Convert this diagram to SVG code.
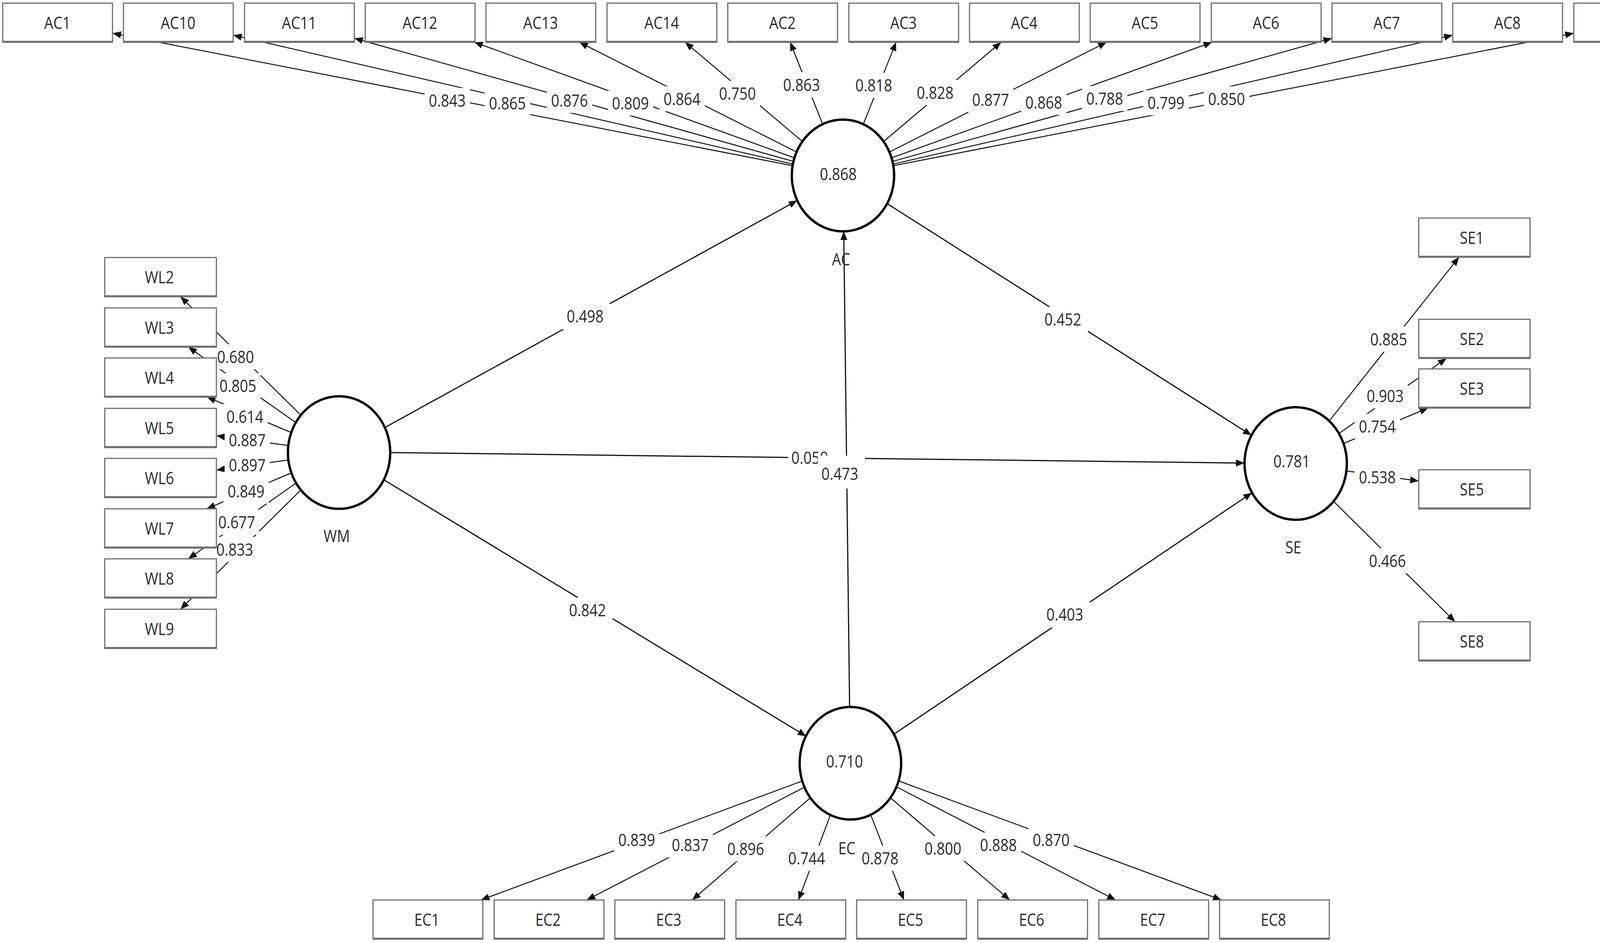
<svg xmlns="http://www.w3.org/2000/svg" width="4318" height="2413" viewBox="0 0 4318 2413">
<style>
.ln{stroke:#111;stroke-width:2.5;fill:none;marker-end:url(#arr)}
.st{stroke:#111;stroke-width:3;fill:none;marker-end:url(#arr)}
.box rect{fill:#fff;stroke:#6e6e6e;stroke-width:3}
.box line{stroke:#6e6e6e;stroke-width:5}
text{font-family:"Open Sans","Noto Sans","DejaVu Sans",sans-serif;font-size:37px;fill:#2a2a2a;text-anchor:middle;transform-box:fill-box;transform-origin:center;transform:scaleY(1.2)}
.lbl rect{fill:#fff}
.cn ellipse{fill:#fff;stroke:#000;stroke-width:6}
</style>
<defs>
<marker id="arr" markerUnits="userSpaceOnUse" markerWidth="24" markerHeight="20" refX="22" refY="9" orient="auto">
<path d="M0,0 L22,9 L0,18 z" fill="#111"/>
</marker>
</defs>
<rect x="0" y="0" width="4318" height="2413" fill="#fff"/>

<g id="connectors">
<line class="ln" x1="2029" y1="424" x2="288" y2="85"/>
<line class="ln" x1="2030" y1="420" x2="597" y2="90"/>
<line class="ln" x1="2031" y1="413" x2="907" y2="98"/>
<line class="ln" x1="2034" y1="404" x2="1214" y2="108"/>
<line class="ln" x1="2039" y1="389" x2="1483" y2="108"/>
<line class="ln" x1="2054" y1="362" x2="1754" y2="108"/>
<line class="ln" x1="2106" y1="318" x2="2023" y2="108"/>
<line class="ln" x1="2210" y1="318" x2="2294" y2="108"/>
<line class="ln" x1="2262" y1="362" x2="2563" y2="108"/>
<line class="ln" x1="2277" y1="389" x2="2833" y2="108"/>
<line class="ln" x1="2282" y1="404" x2="3103" y2="108"/>
<line class="ln" x1="2285" y1="413" x2="3410" y2="98"/>
<line class="ln" x1="2286" y1="420" x2="3719" y2="90"/>
<line class="ln" x1="2287" y1="424" x2="4029" y2="85"/>

<line class="ln" x1="770" y1="1062" x2="462" y2="759"/>
<line class="ln" x1="757" y1="1081" x2="482" y2="888"/>
<line class="ln" x1="746" y1="1107" x2="530" y2="1016"/>
<line class="ln" x1="738" y1="1140" x2="554" y2="1115"/>
<line class="ln" x1="738" y1="1177" x2="554" y2="1203"/>
<line class="ln" x1="746" y1="1210" x2="529" y2="1302"/>
<line class="ln" x1="758" y1="1236" x2="482" y2="1430"/>
<line class="ln" x1="770" y1="1254" x2="462" y2="1559"/>

<line class="ln" x1="3403" y1="1077" x2="3735" y2="658"/>
<line class="ln" x1="3428" y1="1109" x2="3703" y2="917"/>
<line class="ln" x1="3439" y1="1135" x2="3656" y2="1044"/>
<line class="ln" x1="3447" y1="1205" x2="3632" y2="1231"/>
<line class="ln" x1="3414" y1="1283" x2="3725" y2="1591"/>

<line class="ln" x1="2055" y1="1998" x2="1231" y2="2303"/>
<line class="ln" x1="2060" y1="2014" x2="1502" y2="2303"/>
<line class="ln" x1="2075" y1="2041" x2="1772" y2="2303"/>
<line class="ln" x1="2126" y1="2085" x2="2044" y2="2303"/>
<line class="ln" x1="2229" y1="2085" x2="2314" y2="2303"/>
<line class="ln" x1="2279" y1="2041" x2="2585" y2="2303"/>
<line class="ln" x1="2294" y1="2013" x2="2856" y2="2303"/>
<line class="ln" x1="2300" y1="1998" x2="3127" y2="2303"/>

<line class="st" x1="985" y1="1094" x2="2041" y2="513"/>
<line class="st" x1="2271" y1="521" x2="3204" y2="1114"/>
<line class="st" x1="999" y1="1158" x2="3186" y2="1185"/>
<line class="st" x1="983" y1="1228" x2="2064" y2="1884"/>
<line class="st" x1="2175" y1="1809" x2="2160" y2="592"/>
<line class="st" x1="2288" y1="1879" x2="3205" y2="1261"/>
</g>

<g id="edge-labels">
<g class="lbl"><rect x="1087" y="225" width="116" height="64"/><text x="1145" y="270">0.843</text></g>
<g class="lbl"><rect x="1241" y="232" width="116" height="64"/><text x="1299" y="277">0.865</text></g>
<g class="lbl"><rect x="1400" y="225" width="116" height="64"/><text x="1458" y="270">0.876</text></g>
<g class="lbl"><rect x="1556" y="232" width="116" height="64"/><text x="1614" y="277">0.809</text></g>
<g class="lbl"><rect x="1688" y="221" width="116" height="64"/><text x="1746" y="266">0.864</text></g>
<g class="lbl"><rect x="1830" y="207" width="116" height="64"/><text x="1888" y="252">0.750</text></g>
<g class="lbl"><rect x="1994" y="185" width="116" height="64"/><text x="2052" y="230">0.863</text></g>
<g class="lbl"><rect x="2179" y="186" width="116" height="64"/><text x="2237" y="231">0.818</text></g>
<g class="lbl"><rect x="2336" y="205" width="116" height="64"/><text x="2394" y="250">0.828</text></g>
<g class="lbl"><rect x="2478" y="223" width="116" height="64"/><text x="2536" y="268">0.877</text></g>
<g class="lbl"><rect x="2614" y="230" width="116" height="64"/><text x="2672" y="275">0.868</text></g>
<g class="lbl"><rect x="2770" y="220" width="116" height="64"/><text x="2828" y="265">0.788</text></g>
<g class="lbl"><rect x="2927" y="231" width="116" height="64"/><text x="2985" y="276">0.799</text></g>
<g class="lbl"><rect x="3082" y="221" width="116" height="64"/><text x="3140" y="266">0.850</text></g>

<g class="lbl"><rect x="545" y="881" width="116" height="64"/><text x="603" y="926">0.680</text></g>
<g class="lbl"><rect x="551" y="955" width="116" height="64"/><text x="609" y="1000">0.805</text></g>
<g class="lbl"><rect x="569" y="1034" width="116" height="64"/><text x="627" y="1079">0.614</text></g>
<g class="lbl"><rect x="575" y="1094" width="116" height="64"/><text x="633" y="1139">0.887</text></g>
<g class="lbl"><rect x="575" y="1158" width="116" height="64"/><text x="633" y="1203">0.897</text></g>
<g class="lbl"><rect x="572" y="1225" width="116" height="64"/><text x="630" y="1270">0.849</text></g>
<g class="lbl"><rect x="548" y="1304" width="116" height="64"/><text x="606" y="1349">0.677</text></g>
<g class="lbl"><rect x="543" y="1374" width="116" height="64"/><text x="601" y="1419">0.833</text></g>

<g class="lbl"><rect x="3497" y="836" width="116" height="64"/><text x="3555" y="881">0.885</text></g>
<g class="lbl"><rect x="3488" y="981" width="116" height="64"/><text x="3546" y="1026">0.903</text></g>
<g class="lbl"><rect x="3468" y="1059" width="116" height="64"/><text x="3526" y="1104">0.754</text></g>
<g class="lbl"><rect x="3468" y="1189" width="116" height="64"/><text x="3526" y="1234">0.538</text></g>
<g class="lbl"><rect x="3494" y="1403" width="116" height="64"/><text x="3552" y="1448">0.466</text></g>

<g class="lbl"><rect x="1572" y="2117" width="116" height="64"/><text x="1630" y="2162">0.839</text></g>
<g class="lbl"><rect x="1709" y="2130" width="116" height="64"/><text x="1767" y="2175">0.837</text></g>
<g class="lbl"><rect x="1851" y="2140" width="116" height="64"/><text x="1909" y="2185">0.896</text></g>
<g class="lbl"><rect x="2007" y="2164" width="116" height="64"/><text x="2065" y="2209">0.744</text></g>
<g class="lbl"><rect x="2195" y="2164" width="116" height="64"/><text x="2253" y="2209">0.878</text></g>
<g class="lbl"><rect x="2356" y="2139" width="116" height="64"/><text x="2414" y="2184">0.800</text></g>
<g class="lbl"><rect x="2498" y="2130" width="116" height="64"/><text x="2556" y="2175">0.888</text></g>
<g class="lbl"><rect x="2633" y="2117" width="116" height="64"/><text x="2691" y="2162">0.870</text></g>

<g class="lbl"><rect x="1438" y="777" width="124" height="66"/><text x="1498" y="822">0.498</text></g>
<g class="lbl"><rect x="2661" y="785" width="124" height="66"/><text x="2721" y="830">0.452</text></g>
<g class="lbl"><rect x="1444" y="1529" width="124" height="66"/><text x="1504" y="1574">0.842</text></g>
<g class="lbl"><rect x="2666" y="1540" width="124" height="66"/><text x="2726" y="1585">0.403</text></g>
<g class="lbl"><rect x="2018" y="1138" width="108" height="66"/><text x="2073" y="1184">0.050</text></g>
<g class="lbl"><rect x="2094" y="1166" width="120" height="84"/><text x="2150" y="1225">0.473</text></g>
</g>

<g id="AC1" class="box"><rect x="7" y="8" width="281" height="100"/><line x1="7" y1="107" x2="288" y2="107"/><text x="147" y="71">AC1</text></g>
<g id="AC10" class="box"><rect x="316" y="8" width="281" height="100"/><line x1="316" y1="107" x2="597" y2="107"/><text x="456" y="71">AC10</text></g>
<g id="AC11" class="box"><rect x="626" y="8" width="281" height="100"/><line x1="626" y1="107" x2="907" y2="107"/><text x="766" y="71">AC11</text></g>
<g id="AC12" class="box"><rect x="935" y="8" width="281" height="100"/><line x1="935" y1="107" x2="1216" y2="107"/><text x="1075" y="71">AC12</text></g>
<g id="AC13" class="box"><rect x="1244" y="8" width="281" height="100"/><line x1="1244" y1="107" x2="1525" y2="107"/><text x="1384" y="71">AC13</text></g>
<g id="AC14" class="box"><rect x="1554" y="8" width="281" height="100"/><line x1="1554" y1="107" x2="1835" y2="107"/><text x="1694" y="71">AC14</text></g>
<g id="AC2" class="box"><rect x="1863" y="8" width="281" height="100"/><line x1="1863" y1="107" x2="2144" y2="107"/><text x="2003" y="71">AC2</text></g>
<g id="AC3" class="box"><rect x="2173" y="8" width="281" height="100"/><line x1="2173" y1="107" x2="2454" y2="107"/><text x="2313" y="71">AC3</text></g>
<g id="AC4" class="box"><rect x="2482" y="8" width="281" height="100"/><line x1="2482" y1="107" x2="2763" y2="107"/><text x="2622" y="71">AC4</text></g>
<g id="AC5" class="box"><rect x="2791" y="8" width="281" height="100"/><line x1="2791" y1="107" x2="3072" y2="107"/><text x="2931" y="71">AC5</text></g>
<g id="AC6" class="box"><rect x="3101" y="8" width="281" height="100"/><line x1="3101" y1="107" x2="3382" y2="107"/><text x="3241" y="71">AC6</text></g>
<g id="AC7" class="box"><rect x="3410" y="8" width="281" height="100"/><line x1="3410" y1="107" x2="3691" y2="107"/><text x="3550" y="71">AC7</text></g>
<g id="AC8" class="box"><rect x="3719" y="8" width="281" height="100"/><line x1="3719" y1="107" x2="4000" y2="107"/><text x="3859" y="71">AC8</text></g>
<g id="AC9" class="box"><rect x="4029" y="8" width="281" height="100"/><line x1="4029" y1="107" x2="4310" y2="107"/><text x="4169" y="71">AC9</text></g>

<g id="WL2" class="box"><rect x="268" y="659" width="286" height="100"/><line x1="268" y1="758" x2="554" y2="758"/><text x="408" y="722">WL2</text></g>
<g id="WL3" class="box"><rect x="268" y="788" width="286" height="100"/><line x1="268" y1="887" x2="554" y2="887"/><text x="408" y="851">WL3</text></g>
<g id="WL4" class="box"><rect x="268" y="916" width="286" height="100"/><line x1="268" y1="1015" x2="554" y2="1015"/><text x="408" y="979">WL4</text></g>
<g id="WL5" class="box"><rect x="268" y="1045" width="286" height="100"/><line x1="268" y1="1144" x2="554" y2="1144"/><text x="408" y="1108">WL5</text></g>
<g id="WL6" class="box"><rect x="268" y="1173" width="286" height="100"/><line x1="268" y1="1272" x2="554" y2="1272"/><text x="408" y="1236">WL6</text></g>
<g id="WL7" class="box"><rect x="268" y="1302" width="286" height="100"/><line x1="268" y1="1401" x2="554" y2="1401"/><text x="408" y="1365">WL7</text></g>
<g id="WL8" class="box"><rect x="268" y="1430" width="286" height="100"/><line x1="268" y1="1529" x2="554" y2="1529"/><text x="408" y="1493">WL8</text></g>
<g id="WL9" class="box"><rect x="268" y="1559" width="286" height="100"/><line x1="268" y1="1658" x2="554" y2="1658"/><text x="408" y="1622">WL9</text></g>

<g id="SE1" class="box"><rect x="3632" y="558" width="285" height="100"/><line x1="3632" y1="657" x2="3917" y2="657"/><text x="3768" y="621">SE1</text></g>
<g id="SE2" class="box"><rect x="3632" y="817" width="285" height="100"/><line x1="3632" y1="916" x2="3917" y2="916"/><text x="3768" y="880">SE2</text></g>
<g id="SE3" class="box"><rect x="3632" y="944" width="285" height="100"/><line x1="3632" y1="1043" x2="3917" y2="1043"/><text x="3768" y="1007">SE3</text></g>
<g id="SE5" class="box"><rect x="3632" y="1202" width="285" height="100"/><line x1="3632" y1="1301" x2="3917" y2="1301"/><text x="3768" y="1265">SE5</text></g>
<g id="SE8" class="box"><rect x="3632" y="1591" width="285" height="100"/><line x1="3632" y1="1690" x2="3917" y2="1690"/><text x="3768" y="1654">SE8</text></g>

<g id="EC1" class="box"><rect x="955" y="2303" width="281" height="100"/><line x1="955" y1="2402" x2="1236" y2="2402"/><text x="1093" y="2366">EC1</text></g>
<g id="EC2" class="box"><rect x="1265" y="2303" width="281" height="100"/><line x1="1265" y1="2402" x2="1546" y2="2402"/><text x="1403" y="2366">EC2</text></g>
<g id="EC3" class="box"><rect x="1574" y="2303" width="281" height="100"/><line x1="1574" y1="2402" x2="1855" y2="2402"/><text x="1712" y="2366">EC3</text></g>
<g id="EC4" class="box"><rect x="1884" y="2303" width="281" height="100"/><line x1="1884" y1="2402" x2="2165" y2="2402"/><text x="2022" y="2366">EC4</text></g>
<g id="EC5" class="box"><rect x="2193" y="2303" width="281" height="100"/><line x1="2193" y1="2402" x2="2474" y2="2402"/><text x="2331" y="2366">EC5</text></g>
<g id="EC6" class="box"><rect x="2503" y="2303" width="281" height="100"/><line x1="2503" y1="2402" x2="2784" y2="2402"/><text x="2641" y="2366">EC6</text></g>
<g id="EC7" class="box"><rect x="2813" y="2303" width="281" height="100"/><line x1="2813" y1="2402" x2="3094" y2="2402"/><text x="2951" y="2366">EC7</text></g>
<g id="EC8" class="box"><rect x="3122" y="2303" width="281" height="100"/><line x1="3122" y1="2402" x2="3403" y2="2402"/><text x="3260" y="2366">EC8</text></g>

<g id="AC" class="cn"><ellipse cx="2158" cy="449" rx="131" ry="143"/><text x="2146" y="458">0.868</text><text x="2153" y="676">AC</text></g>
<g id="WM" class="cn"><ellipse cx="868" cy="1158" rx="131" ry="144"/><text x="862" y="1384">WM</text></g>
<g id="SE" class="cn"><ellipse cx="3317" cy="1186" rx="131" ry="144"/><text x="3307" y="1193">0.781</text><text x="3311" y="1413">SE</text></g>
<g id="EC" class="cn"><ellipse cx="2177" cy="1953" rx="130" ry="144"/><text x="2162" y="1961">0.710</text><text x="2168" y="2183">EC</text></g>
</svg>
